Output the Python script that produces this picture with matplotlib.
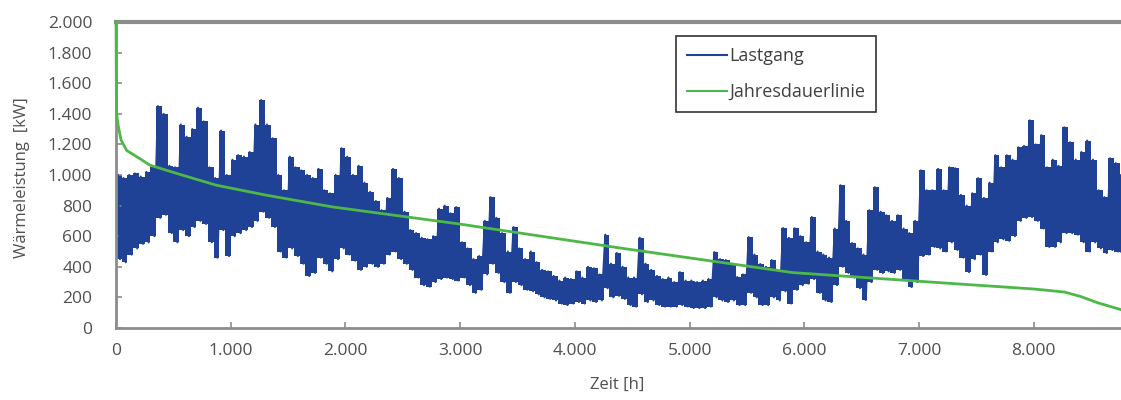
import matplotlib
matplotlib.use("Agg")
import matplotlib.pyplot as plt
from matplotlib.ticker import FuncFormatter
import numpy as np

# Lastgang: envelope (max / min) per 50-hour block
bin_hours = 50
lastgang_hi = [
    1000, 980, 1000, 1010, 990, 1020, 1050, 1450, 1400, 1060,
    1050, 1330, 1250, 1300, 1440, 1350, 1050, 980, 1290, 1000,
    1100, 1130, 1120, 1150, 1330, 1490, 1330, 1240, 1000, 900,
    1120, 1050, 1030, 1000, 980, 1040, 900, 880, 1000, 1175,
    1120, 1000, 1060, 950, 890, 830, 770, 850, 1040, 980,
    760, 640, 620, 590, 580, 600, 780, 800, 750, 790,
    560, 520, 450, 470, 700, 855, 720, 620, 500, 660,
    520, 450, 500, 430, 380, 370, 340, 310, 330, 320,
    370, 330, 400, 390, 350, 610, 420, 490, 400, 330,
    330, 590, 420, 380, 340, 320, 330, 300, 365, 310,
    310, 300, 310, 320, 496, 450, 444, 420, 333, 350,
    594, 480, 418, 400, 444, 380, 653, 590, 652, 600,
    560, 725, 500, 480, 460, 650, 933, 700, 555, 520,
    480, 770, 920, 760, 737, 700, 737, 650, 620, 700,
    1030, 900, 900, 1040, 900, 1050, 1044, 870, 800, 880,
    979, 850, 950, 1129, 1050, 1129, 1100, 1181, 1190, 1357,
    1200, 1260, 1050, 1100, 1060, 1312, 1214, 1100, 1150, 1225,
    1100, 900, 855, 1109, 1077, 1000,
]
lastgang_lo = [
    450, 430, 480, 520, 550, 560, 600, 720, 740, 620,
    560, 640, 600, 660, 700, 680, 560, 460, 640, 470,
    600, 620, 640, 660, 700, 760, 720, 660, 500, 460,
    520, 470, 420, 340, 360, 460, 420, 370, 450, 520,
    480, 440, 380, 400, 420, 400, 420, 480, 500, 450,
    420, 380, 330, 280, 270, 300, 320, 330, 320, 310,
    330, 280, 230, 250, 350, 420, 360, 300, 230, 300,
    280, 250, 240, 220, 200, 190, 180, 160, 150, 160,
    170, 160, 180, 170, 180, 260, 200, 210, 190, 150,
    140, 220, 170, 180, 150, 140, 140, 140, 150, 140,
    130, 130, 130, 140, 200, 180, 170, 180, 150, 150,
    230, 200, 150, 150, 200, 180, 240, 160, 250, 280,
    290, 320, 230, 180, 170, 280, 400, 360, 330, 260,
    183, 300, 380, 360, 370, 360, 380, 320, 268, 300,
    470, 480, 530, 520, 500, 560, 510, 460, 365, 450,
    480, 346, 500, 560, 580, 570, 600, 700, 720, 725,
    700, 650, 530, 530, 560, 620, 620, 610, 560, 500,
    560, 520, 490, 510, 500, 500,
]

# Jahresdauerlinie (sorted annual load duration curve)
dauer_hours = [0, 4, 10, 20, 43, 93, 159, 296, 583, 876, 1310, 1890, 2991,
               4420, 5900, 7300, 8000, 8267, 8412, 8557, 8760]
dauer_kw = [2000, 1420, 1370, 1320, 1230, 1160, 1130, 1064, 998, 933, 868, 791, 680,
            520, 362, 290, 255, 235, 205, 165, 120]

x_ticks = [0, 1000, 2000, 3000, 4000, 5000, 6000, 7000, 8000]
y_ticks = [0, 200, 400, 600, 800, 1000, 1200, 1400, 1600, 1800, 2000]

blue = "#1f4196"
green = "#4db848"
grey_text = "#505050"
spine_grey = "#8c8c8c"

plt.rcParams['font.family'] = ['Open Sans', 'DejaVu Sans']

fig = plt.figure(figsize=(11.21, 4.0), dpi=100)
ax = fig.add_axes([0.1035, 0.18, 0.8965, 0.765])

hi = np.asarray(lastgang_hi, dtype=float)
lo = np.asarray(lastgang_lo, dtype=float)
starts = np.arange(len(hi)) * bin_hours

# solid band between block minima and maxima
edges = np.append(starts, 8760)
ax.fill_between(edges, np.append(lo, lo[-1]), np.append(hi, hi[-1]),
                step="post", color=blue, lw=0)

# zig-zag line through the block maxima/minima (texture + legend entry)
xs = np.empty(2 * len(hi))
ys = np.empty(2 * len(hi))
xs[0::2] = starts + bin_hours * 0.3
xs[1::2] = starts + bin_hours * 0.7
ys[0::2] = hi
ys[1::2] = lo
xs = np.clip(xs, 0, 8760)
ax.plot(xs, ys, color=blue, lw=1.5, label="Lastgang")
ax.plot(dauer_hours, dauer_kw, color=green, lw=2.0, label="Jahresdauerlinie",
        zorder=3, clip_on=False)

ax.set_xlim(0, 8760)
ax.set_ylim(0, 2000)
ax.set_xticks(x_ticks)
ax.set_yticks(y_ticks)
fmt = FuncFormatter(lambda v, p: f"{int(v):,}".replace(",", "."))
ax.xaxis.set_major_formatter(fmt)
ax.yaxis.set_major_formatter(fmt)
ax.tick_params(axis="both", direction="in", length=4, width=1.2,
               color=spine_grey, labelcolor=grey_text, labelsize=12.5)
ax.tick_params(axis="x", pad=11)
ax.tick_params(axis="y", pad=17)

for side in ["left", "bottom", "top"]:
    ax.spines[side].set_color(spine_grey)
    ax.spines[side].set_linewidth(2.0)
ax.spines["top"].set_linewidth(3.0)
ax.spines["right"].set_visible(False)

ax.set_xlabel("Zeit [h]", color=grey_text, fontsize=12)
ax.set_ylabel("Wärmeleistung  [kW]", color=grey_text, fontsize=12)
ax.xaxis.set_label_coords(0.4985, -0.158)
ax.yaxis.set_label_coords(-0.086, 0.49)

leg = ax.legend(loc="upper left", bbox_to_anchor=(676 / 1121, 1 - 36 / 400),
                bbox_transform=fig.transFigure, frameon=True, fancybox=False,
                edgecolor="black", fontsize=13, labelspacing=1.0,
                handlelength=2.2, handletextpad=0.15, borderpad=0.6,
                borderaxespad=0)
leg.get_frame().set_linewidth(1.2)
for t in leg.get_texts():
    t.set_color("#404040")
for h in leg.get_lines():
    h.set_linewidth(1.5)

fig.savefig("out.png", dpi=100)
